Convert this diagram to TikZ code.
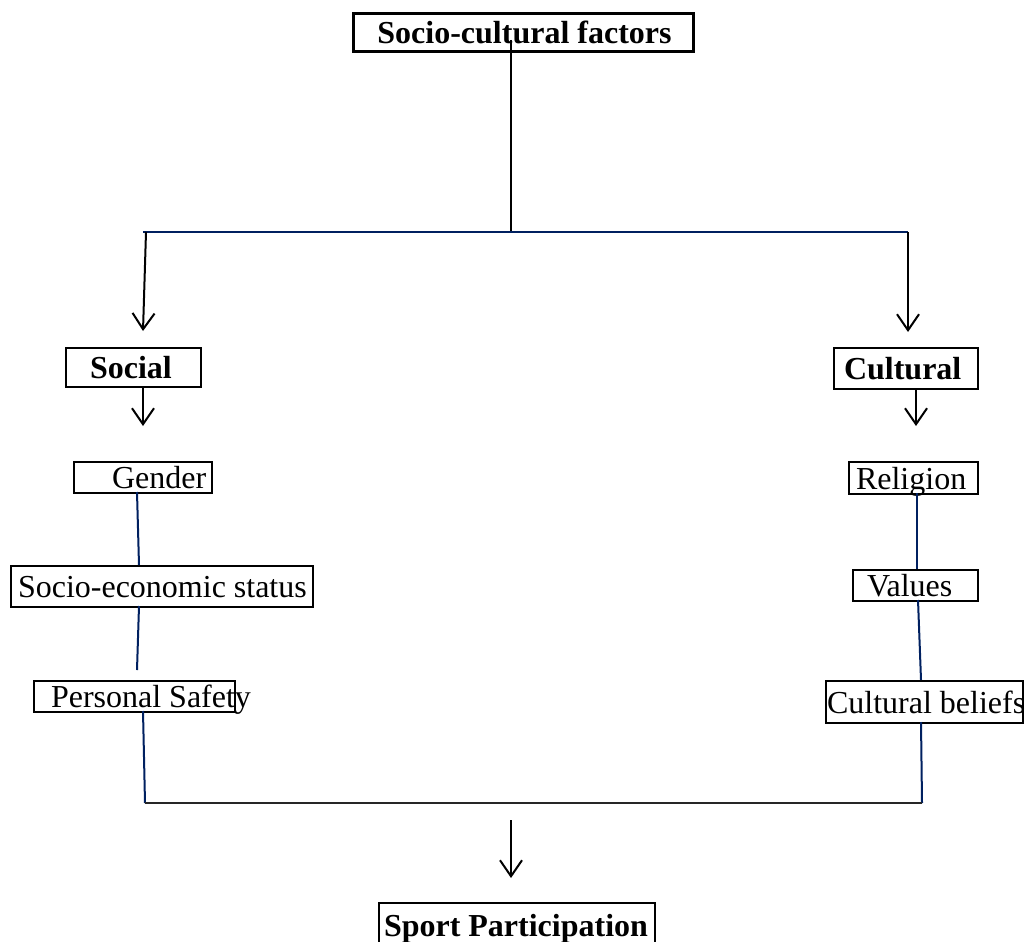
\documentclass[tikz,border=0pt]{standalone}
\usepackage{fontspec}
\setmainfont{Liberation Serif}
\usetikzlibrary{arrows.meta}
\definecolor{navy}{RGB}{0,32,96}
\begin{document}
\begin{tikzpicture}[x=0.5pt,y=-0.5pt,
  box/.style={draw=black, line width=1pt, inner sep=0pt, anchor=north west,
    text depth=0pt, font=\fontsize{16}{19}\selectfont},
  bbox/.style={box, font=\fontsize{16}{19}\selectfont\bfseries},
  arr/.style={draw=black, line width=1pt, -{Straight Barb[length=8pt,width=11pt]}},
  blue/.style={draw=navy, line width=1pt},
  base/.style={draw=black!85, line width=1.4pt}]
\useasboundingbox (0,0) rectangle (1026,941);

% boxes
\node[bbox, line width=1.4pt, minimum width=170pt, minimum height=19pt] (top) at (352,12) {\makebox[170pt][l]{\hspace{12pt}Socio-cultural factors}};
\node[bbox, minimum width=67.5pt, minimum height=19.5pt] (social) at (65,347) {\makebox[67.5pt][l]{\hspace{12pt}Social}};
\node[bbox, minimum width=72pt, minimum height=20.5pt] (cultural) at (833,347) {\makebox[72pt][l]{\hspace{5pt}Cultural}};
\node[box, minimum width=69pt, minimum height=15.5pt] (gender) at (73,461) {\makebox[69pt][l]{\hspace{19pt}Gender}};
\node[box, minimum width=151pt, minimum height=20.5pt] (ses) at (10,565) {\makebox[151pt][l]{\hspace{3.5pt}Socio-economic status}};
\node[box, minimum width=100.5pt, minimum height=15.5pt] (safety) at (33,680) {\makebox[100.5pt][l]{\hspace{8.5pt}Personal Safety}};
\node[box, minimum width=64.5pt, minimum height=16pt] (religion) at (848,461) {\makebox[64.5pt][l]{\hspace{3.5pt}Religion}};
\node[box, minimum width=62.5pt, minimum height=15.5pt] (values) at (852,569) {\makebox[62.5pt][l]{\hspace{7pt}Values}};
\node[box, minimum width=98.5pt, minimum height=21pt] (beliefs) at (825,680) {\makebox[98.5pt][l]{\hspace{0.5pt}Cultural beliefs}};
\node[bbox, minimum width=138pt, minimum height=22pt] (sport) at (378,902) {\makebox[138pt][l]{\hspace{2.5pt}Sport Participation}};

% junction coordinates
\coordinate (t0) at (511,40);
\coordinate (j0) at (511,232);
\coordinate (jl) at (143,232);
\coordinate (jr) at (908,232);
\coordinate (al0) at (146,232);
\coordinate (al1) at (143,331);
\coordinate (ar1) at (908,332);
\coordinate (s0) at (143,386);
\coordinate (s1) at (143,426);
\coordinate (c0) at (916,388);
\coordinate (c1) at (916,426);
\coordinate (g0) at (137,492);
\coordinate (e0) at (139,565);
\coordinate (e1) at (139,606);
\coordinate (p0) at (137,670);
\coordinate (p1) at (143,711);
\coordinate (bl) at (145,803);
\coordinate (r0) at (917,493);
\coordinate (v0) at (917,569);
\coordinate (v1) at (918,600);
\coordinate (b0) at (921,680);
\coordinate (b1) at (921,722);
\coordinate (br) at (922,803);
\coordinate (f0) at (511,820);
\coordinate (f1) at (511,878);

% connectors
\draw[line width=1pt] (t0) -- (j0);
\draw[blue] (jl) -- (jr);
\draw[arr] (al0) -- (al1);
\draw[arr] (jr) -- (ar1);
\draw[arr] (s0) -- (s1);
\draw[arr] (c0) -- (c1);
\draw[blue] (g0) -- (e0);
\draw[blue] (e1) -- (p0);
\draw[blue] (p1) -- (bl);
\draw[blue] (r0) -- (v0);
\draw[blue] (v1) -- (b0);
\draw[blue] (b1) -- (br);
\draw[base] (bl) -- (br);
\draw[arr] (f0) -- (f1);
\end{tikzpicture}
\end{document}
